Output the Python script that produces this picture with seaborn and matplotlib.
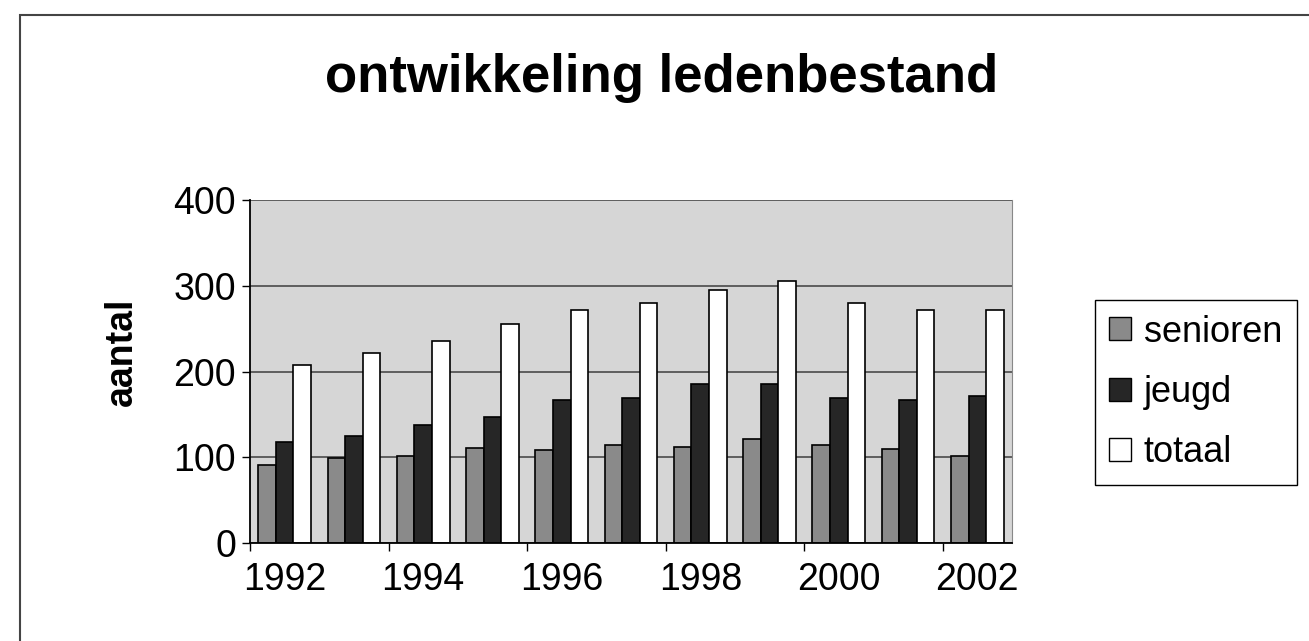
import numpy as np
import pandas as pd
import matplotlib
matplotlib.use('Agg')
import matplotlib.pyplot as plt
import seaborn as sns
from matplotlib.patches import Rectangle, Patch

# gegevens
jaren = [1992, 1993, 1994, 1995, 1996, 1997, 1998, 1999, 2000, 2001, 2002]
senioren = [91, 99, 101, 111, 108, 114, 112, 121, 114, 110, 102]
jeugd = [118, 125, 138, 147, 167, 169, 186, 186, 169, 167, 172]
totaal = [208, 221, 236, 255, 272, 280, 295, 305, 280, 272, 272]
reeksen = ['senioren', 'jeugd', 'totaal']
kleuren = {'senioren': '#8a8a8a', 'jeugd': '#262626', 'totaal': '#ffffff'}

df = pd.DataFrame({
    'jaar': [str(j) for j in jaren] * 3,
    'aantal': senioren + jeugd + totaal,
    'reeks': ['senioren'] * 11 + ['jeugd'] * 11 + ['totaal'] * 11,
})

sns.set_style('white')
plt.rcParams['font.family'] = ['Liberation Sans', 'DejaVu Sans']
plt.rcParams['text.color'] = 'black'
plt.rcParams['xtick.color'] = 'black'
plt.rcParams['ytick.color'] = 'black'

fig = plt.figure(figsize=(13.09, 6.41), dpi=100)
ax = fig.add_axes([250 / 1309, 98 / 641, 762 / 1309, 343 / 641])

sns.barplot(data=df, x='jaar', y='aantal', hue='reeks', hue_order=reeksen,
            palette=kleuren, width=0.76, saturation=1, edgecolor='black',
            linewidth=1.2, ax=ax, legend=False)

ax.set_facecolor('#d6d6d6')
ax.set_ylim(0, 400)
ax.set_xlim(-0.5, 10.5)
ax.set_yticks([0, 100, 200, 300, 400])
ax.yaxis.grid(True, color='#4a4a4a', lw=1.2)
ax.set_axisbelow(True)
ax.set_xlabel('')
ax.set_ylabel('')

# x-as: labels om het jaar, streepjes tussen de groepen
ax.set_xticks(range(0, 11, 2))
ax.set_xticklabels([str(j) for j in jaren[::2]])
ax.set_xticks(np.arange(-0.5, 11, 2), minor=True)
ax.tick_params(axis='x', which='major', length=0, pad=14, labelsize=27)
ax.tick_params(axis='x', which='minor', length=6, width=1, direction='out', bottom=True)
ax.tick_params(axis='y', length=6, width=1, direction='out', left=True, pad=4, labelsize=27)

for s in ['left', 'bottom']:
    ax.spines[s].set_color('black')
    ax.spines[s].set_linewidth(1.3)
ax.spines['top'].set_visible(False)
ax.spines['right'].set_color('#888888')

fig.text(662 / 1309, 1 - 78 / 641, 'ontwikkeling ledenbestand', ha='center', va='center',
         fontsize=38, fontweight='bold', color='black')
fig.text(122 / 1309, 1 - 352 / 641, 'aantal', rotation=90, ha='center', va='center',
         fontsize=27, fontweight='bold', color='black')

handles = [Patch(facecolor=kleuren[r], edgecolor='black', lw=1) for r in reeksen]
leg = ax.legend(handles, reeksen, loc='center left', bbox_to_anchor=(1095 / 1309, 0.388),
                bbox_transform=fig.transFigure, frameon=True, fancybox=False,
                edgecolor='black', framealpha=1, fontsize=26, handlelength=0.6,
                handleheight=0.6, handletextpad=0.35, labelspacing=0.7,
                borderpad=0.4, borderaxespad=0)
leg.get_frame().set_linewidth(1)

# rand om het grafiekgebied
fig.patches.append(Rectangle((20 / 1309, -0.01), 1.0, (641 - 15) / 641 + 0.01,
                             transform=fig.transFigure, fill=False,
                             edgecolor='#444444', lw=1.5))

fig.savefig('out.png', dpi=100)
